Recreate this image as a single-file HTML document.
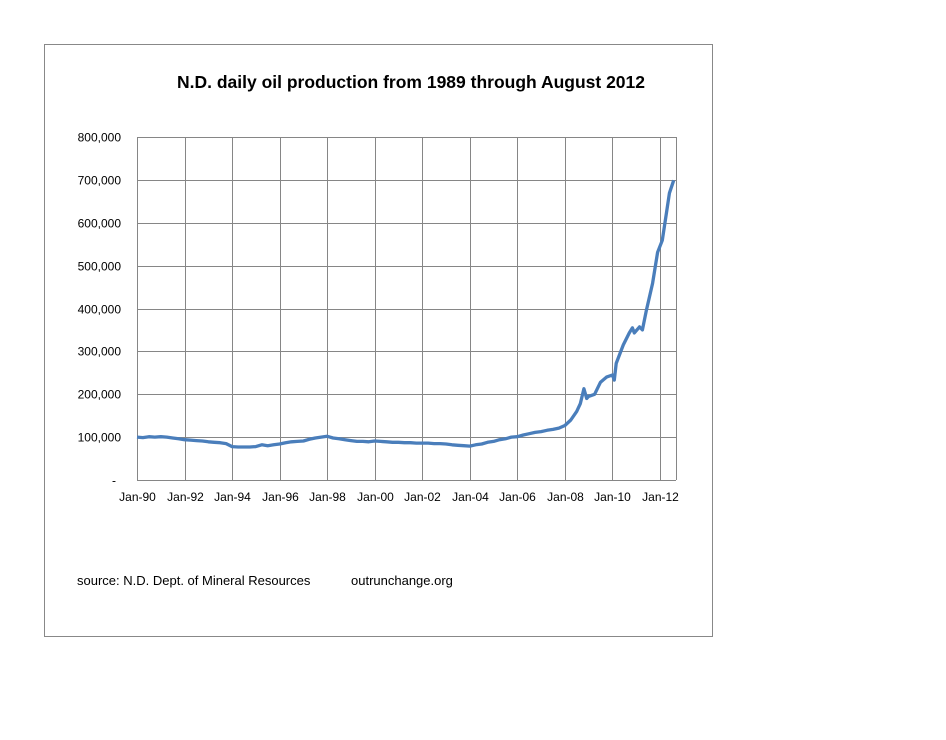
<!DOCTYPE html>
<html><head><meta charset="utf-8"><style>
body{margin:0;background:#fff;}
svg{display:block;font-family:"Liberation Sans",sans-serif;}
</style></head><body>
<svg width="946" height="740">
<rect x="44.5" y="44.5" width="668" height="592" fill="#fff" stroke="#888"/>
<text x="411" y="88" text-anchor="middle" font-size="17.5" font-weight="bold">N.D. daily oil production from 1989 through August  2012</text>
<g id="grid"></g><g id="axes"></g>
<path id="line" fill="none" stroke="#4a7ebb" stroke-width="3.3" stroke-linejoin="round"/>
<text x="77" y="585" font-size="13">source: N.D. Dept. of Mineral Resources</text>
<text x="351" y="585" font-size="13">outrunchange.org</text>
</svg>
<script>
const dates=[1990,1990.25,1990.5,1990.75,1991,1991.25,1991.5,1991.75,1992,1992.25,1992.5,1992.75,1993,1993.25,1993.5,1993.75,1994,1994.25,1994.5,1994.75,1995,1995.25,1995.5,1995.75,1996,1996.25,1996.5,1996.75,1997,1997.25,1997.5,1997.75,1998,1998.25,1998.5,1998.75,1999,1999.25,1999.5,1999.75,2000,2000.25,2000.5,2000.75,2001,2001.25,2001.5,2001.75,2002,2002.25,2002.5,2002.75,2003,2003.25,2003.5,2003.75,2004,2004.25,2004.5,2004.75,2005,2005.25,2005.5,2005.75,2006,2006.25,2006.5,2006.75,2007,2007.25,2007.5,2007.75,2008,2008.25,2008.5,2008.65,2008.8,2008.92,2009,2009.25,2009.5,2009.75,2010,2010.08,2010.16,2010.46,2010.71,2010.84,2010.92,2011.14,2011.26,2011.43,2011.69,2011.9,2012.1,2012.27,2012.4,2012.58];
const values=[100,99,101,100,101,100,98,96,94,93,92,91,89,88,87,85,78,77,77,77,78,82,80,82,84,87,89,90,91,95,98,100,102,98,96,94,92,90,90,89,91,90,89,88,88,87,87,86,86,86,85,85,84,82,81,80,79,82,84,88,90,94,96,100,101,105,108,111,113,116,118,121,127,140,160,178,213,190,195,200,228,240,245,233,272,315,343,355,343,357,350,396,459,531,559,622,669,699];
const yTicks=[0,100,200,300,400,500,600,700,800];
const yTickLabels=["-","100,000","200,000","300,000","400,000","500,000","600,000","700,000","800,000"];
const xTicks=[1990,1992,1994,1996,1998,2000,2002,2004,2006,2008,2010,2012];
const xTickLabels=["Jan-90","Jan-92","Jan-94","Jan-96","Jan-98","Jan-00","Jan-02","Jan-04","Jan-06","Jan-08","Jan-10","Jan-12"];
const X0=137,X1=676,Y0=480,Y1=137;
const xs=d=>X0+(d-1990)*23.77;
const ys=v=>Y0-(v/800)*(Y0-Y1);
const NS="http://www.w3.org/2000/svg";
const grid=document.getElementById('grid'),axes=document.getElementById('axes');
function mk(tag,attrs,parent){const e=document.createElementNS(NS,tag);for(const k in attrs)e.setAttribute(k,attrs[k]);parent.appendChild(e);return e;}
yTicks.forEach((t,i)=>{const y=Math.round(ys(t))+0.5;
 const l=mk('line',{x1:X0,x2:X1,y1:y,y2:y,stroke:'#868686','stroke-width':1},grid);
 
 
 const tx=mk('text',{x:t===0?116:121,y:y+4,'text-anchor':'end','font-size':12},axes);
 tx.textContent=yTickLabels[i];
 
 
});
xTicks.forEach((t,i)=>{const x=Math.round(xs(t))+0.5;
 const l=mk('line',{x1:x,x2:x,y1:Y1,y2:Y0,stroke:'#868686','stroke-width':1},grid);
 
 
 const tx=mk('text',{x:x,y:501,'text-anchor':'middle','font-size':12},axes);
 tx.textContent=xTickLabels[i];
 
 
});
const r=mk('line',{x1:X1+0.5,x2:X1+0.5,y1:Y1,y2:Y0,stroke:'#868686'},grid);


document.getElementById('line').setAttribute('d',dates.map((d,i)=>(i?'L':'M')+xs(d).toFixed(1)+' '+ys(values[i]).toFixed(1)).join(' '));
</script>
</body></html>
